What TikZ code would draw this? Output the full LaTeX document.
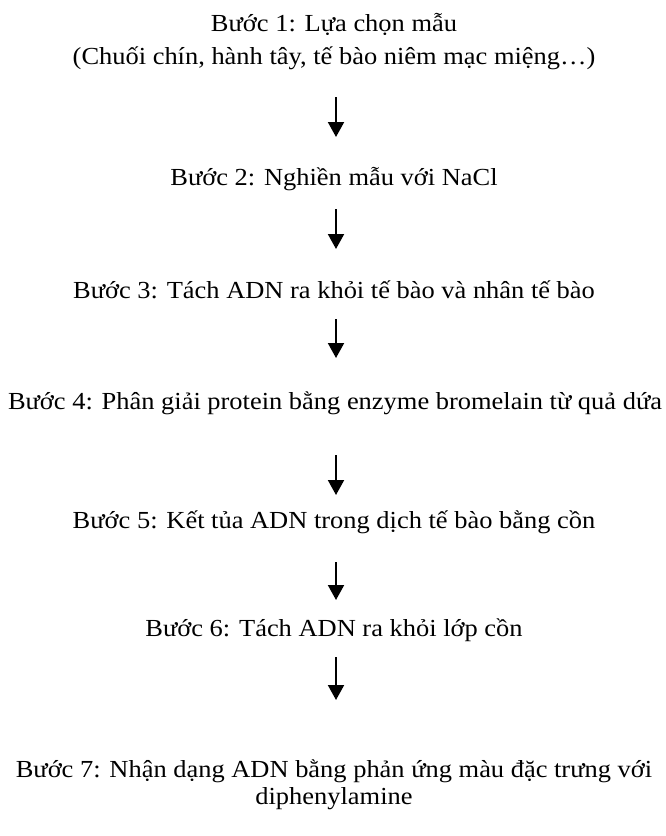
\documentclass[tikz,border=0pt]{standalone}
\usepackage{fontspec}
\setmainfont{Liberation Serif}
\usetikzlibrary{arrows.meta}
\newlength\refw
\newcommand\stepfontsize{\fontsize{24.5}{26.5}\selectfont}
\begin{document}
\settowidth\refw{\stepfontsize Bước 4: Phân giải protein bằng enzyme bromelain từ quả dứa}%
\pgfmathsetmacro\strf{654/\refw}%
\edef\tmpdef{\noexpand\newfontfamily\noexpand\stepfont[FakeStretch=\strf]{Liberation Serif}}\tmpdef
\begin{tikzpicture}[x=1pt,y=-1pt,
  steptext/.style={inner sep=0pt, align=center, font=\stepfont\stepfontsize},
  arr/.style={line width=2pt, -{Triangle[width=16pt,length=15pt]}}]
\useasboundingbox[fill=white] (0,0) rectangle (665,836);
\node[steptext] (s1) at (334,41.5) {Bước 1: Lựa chọn mẫu\\[6pt](Chuối chín, hành tây, tế bào niêm mạc miệng…)};
\node[steptext] (s2) at (334,179) {Bước 2: Nghiền mẫu với NaCl};
\node[steptext] (s3) at (334,290) {Bước 3: Tách ADN ra khỏi tế bào và nhân tế bào};
\node[steptext] (s4) at (335,403) {Bước 4: Phân giải protein bằng enzyme bromelain từ quả dứa};
\node[steptext] (s5) at (334,522) {Bước 5: Kết tủa ADN trong dịch tế bào bằng cồn};
\node[steptext] (s6) at (334,630) {Bước 6: Tách ADN ra khỏi lớp cồn};
\node[steptext] (s7) at (334,785) {Bước 7: Nhận dạng ADN bằng phản ứng màu đặc trưng với\\diphenylamine};
\coordinate (a1s) at (336,97);  \coordinate (a1e) at (336,137);
\coordinate (a2s) at (336,209); \coordinate (a2e) at (336,249);
\coordinate (a3s) at (336,319); \coordinate (a3e) at (336,358);
\coordinate (a4s) at (336,455); \coordinate (a4e) at (336,495);
\coordinate (a5s) at (336,562); \coordinate (a5e) at (336,600);
\coordinate (a6s) at (336,657); \coordinate (a6e) at (336,700);
\draw[arr] (a1s) -- (a1e);
\draw[arr] (a2s) -- (a2e);
\draw[arr] (a3s) -- (a3e);
\draw[arr] (a4s) -- (a4e);
\draw[arr] (a5s) -- (a5e);
\draw[arr] (a6s) -- (a6e);
\end{tikzpicture}
\end{document}
